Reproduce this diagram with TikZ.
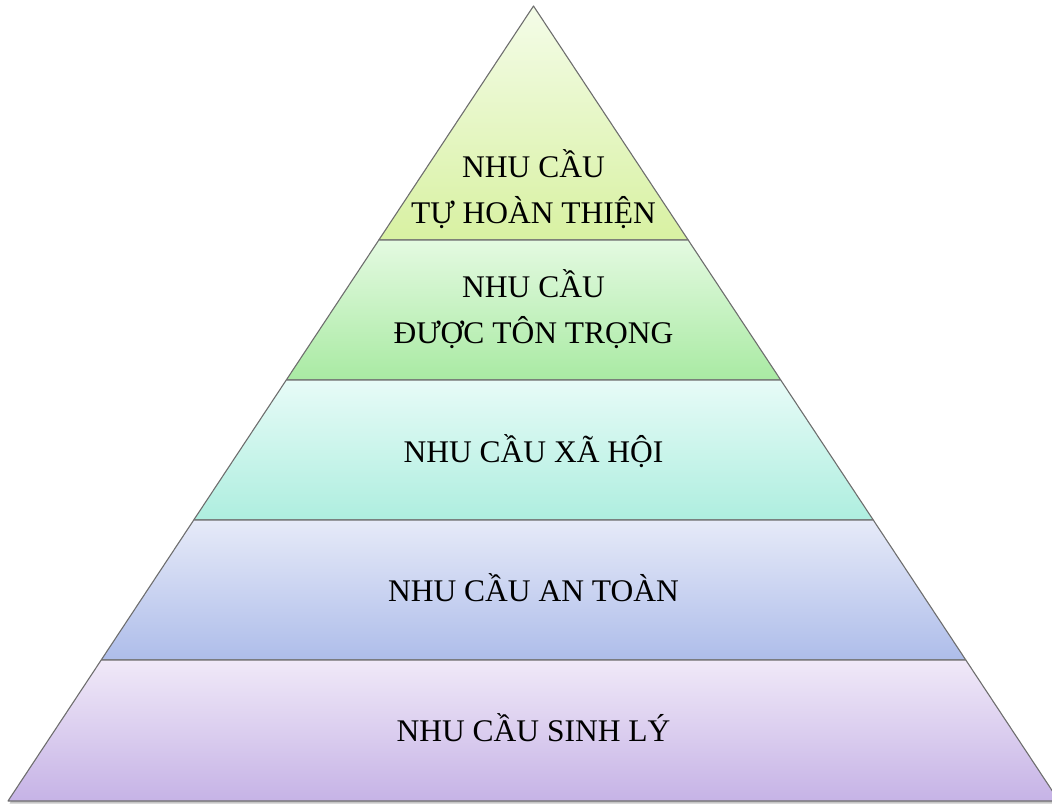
\documentclass[tikz,border=0pt]{standalone}
\usepackage{fontspec}
\setmainfont{Liberation Serif}
\usetikzlibrary{positioning}
\usetikzlibrary{calc}

\definecolor{edgegray}{HTML}{6E6E6E}
\definecolor{topA}{HTML}{F4FCE8}
\definecolor{botA}{HTML}{D8F1A2}
\definecolor{topB}{HTML}{E4FAE1}
\definecolor{botB}{HTML}{A9EAA3}
\definecolor{topC}{HTML}{E7FBF7}
\definecolor{botC}{HTML}{AEEEDF}
\definecolor{topD}{HTML}{E6EAF8}
\definecolor{botD}{HTML}{AEBDEA}
\definecolor{topE}{HTML}{F0E9F8}
\definecolor{botE}{HTML}{C6B3E6}

\tikzset{
    layer/.style={draw=edgegray, line width=1.1pt, line join=round},
    needtext/.style={font=\fontsize{31.5}{46}\selectfont, align=center, anchor=base}
}

\begin{document}
\begin{tikzpicture}[x=1pt,y=-1pt]
\useasboundingbox (0,0) rectangle (1052,805);
\clip (0,0) rectangle (1052,805);

% Corners of the pyramid
\coordinate (apex) at (533.5,6);
\coordinate (baseL) at (8,801);
\coordinate (baseR) at (1059,801);

% Shadow under the base
\fill[gray!45] ($(baseL)+(1.5,2.5)$) -- ($(apex)+(1.5,2.5)$) -- ($(baseR)+(1.5,2.5)$) -- cycle;

% Self-actualisation
\draw[layer, top color=topA, bottom color=botA]
    (apex) -- ($(apex)!0.2943!(baseR)$) -- ($(apex)!0.2943!(baseL)$) -- cycle;

% Esteem
\draw[layer, top color=topB, bottom color=botB]
    ($(apex)!0.2943!(baseL)$) -- ($(apex)!0.2943!(baseR)$)
    -- ($(apex)!0.4704!(baseR)$) -- ($(apex)!0.4704!(baseL)$) -- cycle;

% Social
\draw[layer, top color=topC, bottom color=botC]
    ($(apex)!0.4704!(baseL)$) -- ($(apex)!0.4704!(baseR)$)
    -- ($(apex)!0.6465!(baseR)$) -- ($(apex)!0.6465!(baseL)$) -- cycle;

% Safety
\draw[layer, top color=topD, bottom color=botD]
    ($(apex)!0.6465!(baseL)$) -- ($(apex)!0.6465!(baseR)$)
    -- ($(apex)!0.8226!(baseR)$) -- ($(apex)!0.8226!(baseL)$) -- cycle;

% Physiological
\draw[layer, top color=topE, bottom color=botE]
    ($(apex)!0.8226!(baseL)$) -- ($(apex)!0.8226!(baseR)$)
    -- (baseR) -- (baseL) -- cycle;

% Labels
\node[needtext] (selfact) at (533.5,223) {NHU CẦU\\TỰ HOÀN THIỆN};
\node[needtext] (esteem) at (533.5,343) {NHU CẦU\\ĐƯỢC TÔN TRỌNG};
\node[needtext] (social) at (533.5,462) {NHU CẦU XÃ HỘI};
\node[needtext] (safety) at (533.5,601) {NHU CẦU AN TOÀN};
\node[needtext] (physio) at (533.5,741) {NHU CẦU SINH LÝ};

\end{tikzpicture}
\end{document}
